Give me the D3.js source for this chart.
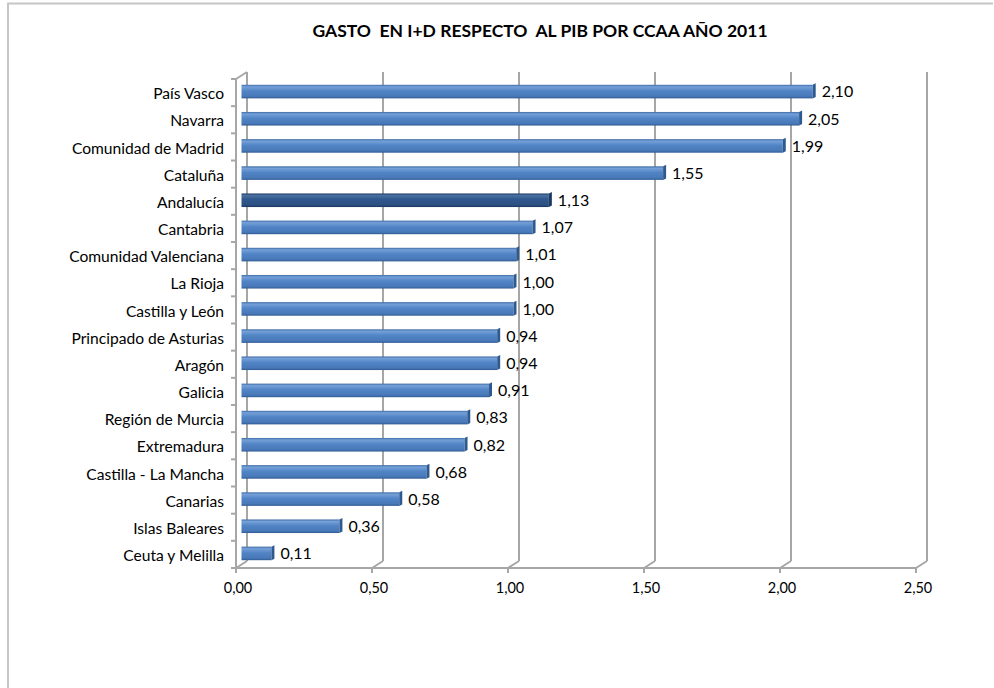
<!DOCTYPE html>
<html>
<head>
<meta charset="utf-8">
<script src="https://cdnjs.cloudflare.com/ajax/libs/d3/7.8.5/d3.min.js"></script>
<style>
  body { margin: 0; background: #fff; }
  svg { display: block; }
  text { font-family: Lato, "Open Sans", sans-serif; fill: #000; }
</style>
</head>
<body>
<svg id="chart" width="994" height="688"></svg>
<script>
var categories = ["País Vasco", "Navarra", "Comunidad de Madrid", "Cataluña", "Andalucía",
  "Cantabria", "Comunidad Valenciana", "La Rioja", "Castilla y León", "Principado de Asturias",
  "Aragón", "Galicia", "Región de Murcia", "Extremadura", "Castilla - La Mancha",
  "Canarias", "Islas Baleares", "Ceuta y Melilla"];
var values = [2.10, 2.05, 1.99, 1.55, 1.13, 1.07, 1.01, 1.00, 1.00, 0.94,
  0.94, 0.91, 0.83, 0.82, 0.68, 0.58, 0.36, 0.11];
var highlighted = ["Andalucía"];
var xTicks = [0, 0.5, 1, 1.5, 2, 2.5];
var title = "GASTO  EN I+D RESPECTO  AL PIB POR CCAA AÑO 2011";

var svg = d3.select('#chart');
var fmt = function(v){ return d3.format('.2f')(v).replace('.', ','); };

// 3d wall depth
var dx = 11, dy = 7;

var x = d3.scaleLinear().domain([0, 2.5]).range([236, 916]);
var y = d3.scaleBand().domain(categories).range([79, 568]).paddingInner(0.5).paddingOuter(0.25);
var yb = d3.scaleBand().domain(categories).range([79, 568]);

// outer frame
svg.append('path')
  .attr('d', 'M8,688 L8,3.5 L993,3.5')
  .attr('fill', 'none').attr('stroke', '#c6c6c6').attr('stroke-width', 2);

// title
svg.append('text')
  .attr('x', 540).attr('y', 37)
  .attr('text-anchor', 'middle')
  .style('white-space', 'pre')
  .style('font-weight', 'bold').style('font-size', '17.5px')
  .text(title);

var grid = svg.append('g').attr('stroke', '#a6a6a6').attr('stroke-width', 2).attr('fill', 'none');

// back wall verticals + floor diagonals
xTicks.forEach(function(t){
  grid.append('line')
    .attr('x1', x(t) + dx).attr('x2', x(t) + dx)
    .attr('y1', 72).attr('y2', 568 - dy);
  grid.append('line')
    .attr('x1', x(t)).attr('y1', 568)
    .attr('x2', x(t) + dx).attr('y2', 568 - dy);
  grid.append('line')
    .attr('x1', x(t)).attr('x2', x(t))
    .attr('y1', 568).attr('y2', 573);
});

// front axes
grid.append('line').attr('x1', x(0)).attr('x2', x(2.5)).attr('y1', 568).attr('y2', 568);
grid.append('line').attr('x1', x(0)).attr('x2', x(0)).attr('y1', 79).attr('y2', 568);
grid.append('line').attr('x1', x(0)).attr('y1', 79).attr('x2', x(0) + dx).attr('y2', 72);

// left ticks
d3.range(categories.length + 1).forEach(function(i){
  var yy = 79 + i * yb.step();
  grid.append('line').attr('x1', x(0) - 5).attr('x2', x(0)).attr('y1', yy).attr('y2', yy);
});

// bar gradients
var defs = svg.append('defs');
function grad(id, stops){
  var g = defs.append('linearGradient').attr('id', id)
    .attr('x1', 0).attr('y1', 0).attr('x2', 0).attr('y2', 1);
  stops.forEach(function(s){
    g.append('stop').attr('offset', s[0]).attr('stop-color', s[1]);
  });
}
grad('gNormal', [[0, '#3f6da8'], [0.15, '#75a0d8'], [0.45, '#5285c6'], [0.85, '#4878b8'], [1, '#2f5b92']]);
grad('gDark', [[0, '#1e3d68'], [0.15, '#4a6f9f'], [0.45, '#30578c'], [0.85, '#2b5083'], [1, '#1a3660']]);

var bx = dx / 2, by = 1, cap = 3;
var bars = svg.append('g').selectAll('g').data(categories).enter().append('g');

bars.append('rect')
  .attr('x', x(0) + bx)
  .attr('y', function(d){ return y(d) - by; })
  .attr('width', function(d, i){ return x(values[i]) - x(0); })
  .attr('height', y.bandwidth())
  .attr('fill', function(d){ return highlighted.indexOf(d) >= 0 ? 'url(#gDark)' : 'url(#gNormal)'; });

bars.append('path')
  .attr('d', function(d, i){
    var x1 = x(values[i]) + bx, y0 = y(d) - by, y1 = y0 + y.bandwidth();
    return 'M' + x1 + ',' + y0 + 'L' + (x1 + cap) + ',' + (y0 - 1.5) + 'L' + (x1 + cap) + ',' + (y1 - 1.5) + 'L' + x1 + ',' + y1 + 'Z';
  })
  .attr('fill', function(d){ return highlighted.indexOf(d) >= 0 ? '#1c3a63' : '#2f5a90'; });

bars.append('text')
  .attr('x', function(d, i){ return x(values[i]) + bx + cap + 6; })
  .attr('y', function(d){ return y(d) - by + y.bandwidth() / 2; })
  .attr('dy', '0.36em')
  .style('font-size', '16px')
  .text(function(d, i){ return fmt(values[i]); });

// category labels
svg.append('g').selectAll('text').data(categories).enter().append('text')
  .attr('x', 224)
  .attr('y', function(d){ return yb(d) + yb.bandwidth() / 2 + 1; })
  .attr('dy', '0.36em')
  .attr('text-anchor', 'end')
  .style('font-size', '15.6px')
  .text(function(d){ return d; });

// x tick labels
svg.append('g').selectAll('text').data(xTicks).enter().append('text')
  .attr('x', function(d){ return x(d) + 2; })
  .attr('y', 588)
  .attr('dy', '0.36em')
  .attr('text-anchor', 'middle')
  .style('font-size', '14.5px')
  .text(fmt);
</script>
</body>
</html>
